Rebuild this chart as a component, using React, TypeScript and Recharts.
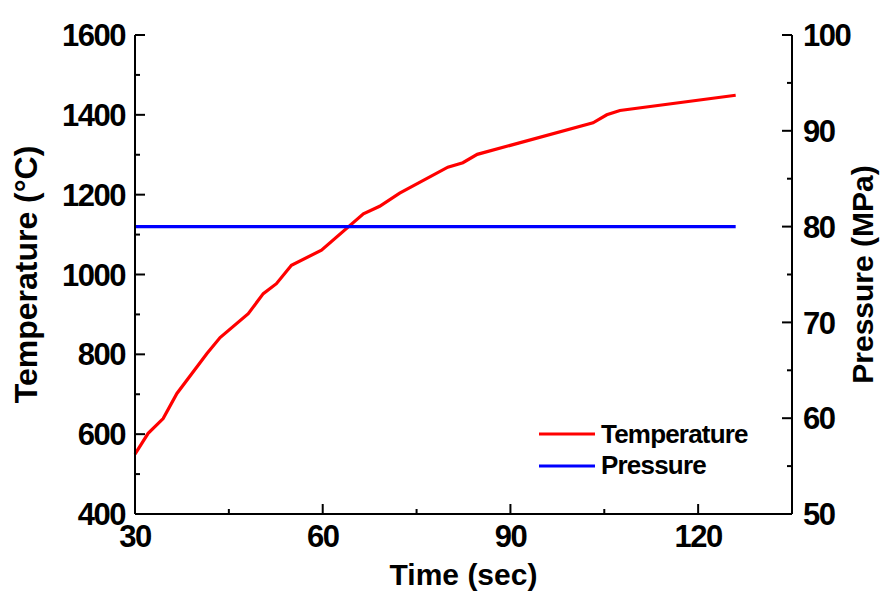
import { LineChart, Line, XAxis, YAxis, Legend, Label } from "recharts"

const time = [30, 32.1, 34.5, 36.7, 41.5, 43.6, 48.1, 50.5, 52.6, 55, 59.8, 66.5, 69.1, 72.3, 80, 82.4, 84.7, 103.2, 105.4, 107.5, 126]
const temperature = [550, 602, 639, 702, 802, 842, 902, 952, 977, 1023, 1061, 1152, 1171, 1204, 1269, 1280, 1301, 1380, 1400, 1411, 1449]
const pressure = [80, 80, 80, 80, 80, 80, 80, 80, 80, 80, 80, 80, 80, 80, 80, 80, 80, 80, 80, 80, 80]
const seriesNames = ["Temperature", "Pressure"]

const timeTicks = [30, 45, 60, 75, 90, 105, 120]
const tempTicks = [400, 500, 600, 700, 800, 900, 1000, 1100, 1200, 1300, 1400, 1500, 1600]
const pressTicks = [50, 55, 60, 65, 70, 75, 80, 85, 90, 95, 100]

const data = time.map((t, i) => ({ t, temperature: temperature[i], pressure: pressure[i] }))

const FONT = "'Liberation Sans', Arial, sans-serif"
const tickText = { fontFamily: FONT, fontWeight: 700, fontSize: 31, letterSpacing: -1.5, fill: "#000" }
const titleText = { fontFamily: FONT, fontWeight: 700, fontSize: 30, fill: "#000" }

function BottomTick(props: any) {
  const { x, y, payload } = props
  const major = payload.value % 30 === 0
  const axisY = y - 8
  return (
    <g>
      <line x1={x} x2={x} y1={axisY} y2={axisY - (major ? 10 : 5)} stroke="#000" strokeWidth={2} />
      {major && (
        <text x={x} y={axisY + 33} textAnchor="middle" style={tickText}>{payload.value}</text>
      )}
    </g>
  )
}

function TopTick(props: any) {
  const { x, y, payload } = props
  const major = payload.value % 30 === 0
  return <line x1={x} x2={x} y1={y} y2={y + (major ? 10 : 5)} stroke="#000" strokeWidth={2} />
}

function LeftTick(props: any) {
  const { x, y, payload } = props
  const major = payload.value % 200 === 0
  const axisX = x + 10
  return (
    <g>
      <line x1={axisX} x2={axisX + (major ? 10 : 5)} y1={y} y2={y} stroke="#000" strokeWidth={2} />
      {major && (
        <text x={x} y={y} dy="0.36em" textAnchor="end" style={tickText}>{payload.value}</text>
      )}
    </g>
  )
}

function RightTick(props: any) {
  const { x, y, payload } = props
  const major = payload.value % 10 === 0
  const axisX = x - 11
  return (
    <g>
      <line x1={axisX} x2={axisX - (major ? 10 : 5)} y1={y} y2={y} stroke="#000" strokeWidth={2} />
      {major && (
        <text x={x} y={y} dy="0.36em" textAnchor="start" style={tickText}>{payload.value}</text>
      )}
    </g>
  )
}

function LegendBox(props: any) {
  const items = [...(props.payload || [])].sort(
    (a: any, b: any) => seriesNames.indexOf(a.value) - seriesNames.indexOf(b.value)
  )
  return (
    <svg width={230} height={70} style={{ overflow: "visible", display: "block" }}>
      {items.map((it: any, i: number) => (
        <g key={it.value}>
          <line x1={0} x2={56} y1={16 + i * 32} y2={16 + i * 32} stroke={it.color} strokeWidth={3} />
          <text x={62} y={25 + i * 31} style={{ fontFamily: FONT, fontWeight: 700, fontSize: 26, letterSpacing: -0.8, fill: "#000" }}>
            {it.value}
          </text>
        </g>
      ))}
    </svg>
  )
}

export default function App() {
  return (
    <div style={{ position: "absolute", left: 0, top: 0, background: "#fff" }}>
      <LineChart width={885} height={596} data={data} margin={{ top: 35, right: 0, bottom: 0, left: 0 }}>
        <XAxis
          xAxisId={0}
          dataKey="t"
          type="number"
          domain={[30, 135]}
          ticks={timeTicks}
          interval={0}
          height={82}
          tickSize={0}
          tickMargin={8}
          tickLine={false}
          stroke="#000"
          strokeWidth={2}
          tick={<BottomTick />}
        >
          <Label
            content={(p: any) => (
              <text x={p.viewBox.x + p.viewBox.width / 2} y={p.viewBox.y + 71} textAnchor="middle" style={titleText}>
                Time (sec)
              </text>
            )}
          />
        </XAxis>
        <XAxis
          xAxisId="top"
          orientation="top"
          dataKey="t"
          type="number"
          domain={[30, 135]}
          ticks={timeTicks}
          interval={0}
          height={0}
          tickSize={0}
          tickMargin={0}
          tickLine={false}
          stroke="#000"
          strokeWidth={2}
          tick={<TopTick />}
        />
        <YAxis
          yAxisId="left"
          domain={[400, 1600]}
          ticks={tempTicks}
          interval={0}
          width={135}
          tickSize={0}
          tickMargin={10}
          tickLine={false}
          stroke="#000"
          strokeWidth={2}
          tick={<LeftTick />}
        >
          <Label
            content={(p: any) => {
              const cx = p.viewBox.x + 37
              const cy = p.viewBox.y + p.viewBox.height / 2
              return (
                <text x={cx} y={cy} textAnchor="middle" transform={`rotate(-90 ${cx} ${cy})`} style={{ ...titleText, fontSize: 32 }}>
                  Temperature (°C)
                </text>
              )
            }}
          />
        </YAxis>
        <YAxis
          yAxisId="right"
          orientation="right"
          domain={[50, 100]}
          ticks={pressTicks}
          interval={0}
          width={93}
          tickSize={0}
          tickMargin={11}
          tickLine={false}
          stroke="#000"
          strokeWidth={2}
          tick={<RightTick />}
        >
          <Label
            content={(p: any) => {
              const cx = p.viewBox.x + 81
              const cy = p.viewBox.y + p.viewBox.height / 2
              return (
                <text x={cx} y={cy} textAnchor="middle" transform={`rotate(-90 ${cx} ${cy})`} style={titleText}>
                  Pressure (MPa)
                </text>
              )
            }}
          />
        </YAxis>
        <Legend
          content={<LegendBox />}
          wrapperStyle={{ position: "absolute", left: 539, top: 418, width: 0, height: 0, overflow: "visible" }}
        />
        <Line
          yAxisId="left"
          type="linear"
          dataKey="temperature"
          name="Temperature"
          stroke="#ff0000"
          strokeWidth={3.2}
          dot={false}
          isAnimationActive={false}
        />
        <Line
          yAxisId="right"
          type="linear"
          dataKey="pressure"
          name="Pressure"
          stroke="#0000ff"
          strokeWidth={3.2}
          dot={false}
          isAnimationActive={false}
        />
      </LineChart>
    </div>
  )
}
